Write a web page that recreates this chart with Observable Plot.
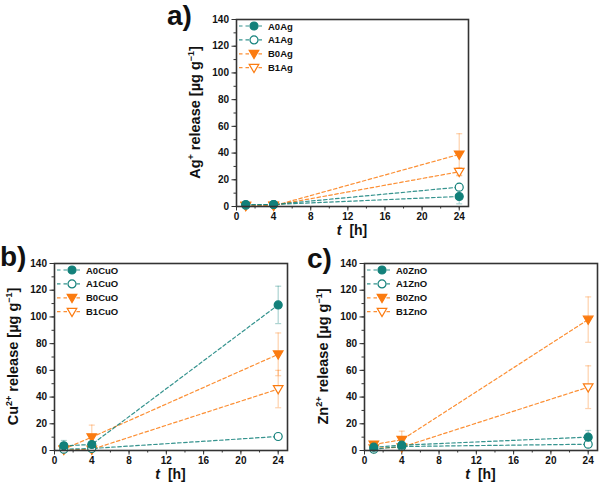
<!DOCTYPE html>
<html>
<head>
<meta charset="utf-8">
<script src="https://cdn.jsdelivr.net/npm/d3@7"></script>
<script src="https://cdn.jsdelivr.net/npm/@observablehq/plot@0.6"></script>
<style>
  body { margin: 0; background: #fff; }
  #fig { position: relative; width: 600px; height: 487px; overflow: hidden;
         font-family: "Liberation Sans", Arial, sans-serif; }
  #fig > svg, #fig > .panel { position: absolute; }
</style>
</head>
<body>
<div id="fig"></div>
<script>
// Sampling times (hours)
const hours = [1, 4, 24];
const xTicks = [0, 4, 8, 12, 16, 20, 24];
const yTicks = [0, 20, 40, 60, 80, 100, 120, 140];

// Ag+ release, µg/g (mean and standard deviation per sample)
const agSeries = ["A0Ag", "A1Ag", "B0Ag", "B1Ag"];
const agMean = [[1.5, 1.5, 7.5], [1, 1.5, 14.5], [0.5, 0.5, 39], [0.5, 0.8, 26]];
const agSd   = [[0.6, 0.6, 5.5], [0.4, 0.5, 1.5], [0.3, 0.3, 15.5], [0.3, 0.3, 3]];

// Cu2+ release, µg/g
const cuSeries = ["A0CuO", "A1CuO", "B0CuO", "B1CuO"];
const cuMean = [[3.5, 4.5, 109], [1, 1.5, 10.5], [1, 10, 72], [0.5, 0.8, 46]];
const cuSd   = [[4, 1, 14], [0.5, 0.5, 1], [1, 9, 16], [0.3, 0.3, 14]];

// Zn2+ release, µg/g
const znSeries = ["A0ZnO", "A1ZnO", "B0ZnO", "B1ZnO"];
const znMean = [[2.5, 4, 10], [1, 3, 4.7], [4.5, 8, 98], [1.7, 2.5, 47.4]];
const znSd   = [[1, 1, 5], [0.5, 0.5, 1], [1, 6.5, 17], [0.5, 0.5, 16]];

const teal = "#12807a";
const orange = "#fb7b10";
const seriesColor = [teal, teal, orange, orange];
const seriesFilled = [true, false, true, false];
const font = '"Liberation Sans", Arial, sans-serif';

// Downward-pointing triangle symbol
const triangleDown = {
  draw(ctx, size) {
    const r = Math.sqrt(size / Math.PI);
    ctx.moveTo(-r * 1.2, -r * 0.85);
    ctx.lineTo(r * 1.2, -r * 0.85);
    ctx.lineTo(0, r * 1.2);
    ctx.closePath();
  }
};
// Short horizontal cap for error bars
const cap = { draw(ctx) { ctx.moveTo(-3, 0); ctx.lineTo(3, 0); } };
const seriesSymbol = ["circle", "circle", triangleDown, triangleDown];

const fig = d3.select("#fig");

function panel({names, mean, sd, ion, charge, left, top, width, height, margin}) {
  const marks = [
    // minor ticks
    Plot.axisX(d3.range(0, 25, 2), {anchor: "bottom", tickSize: 2.5, tickFormat: () => "", label: null, stroke: "#333"}),
    Plot.axisY(d3.range(0, 141, 10), {anchor: "left", tickSize: 2.5, tickFormat: () => "", label: null, stroke: "#333"}),
    // major ticks
    Plot.axisX(xTicks, {anchor: "bottom", tickSize: 4.5, tickPadding: 2, label: null, stroke: "#333",
      fontSize: 10, fontWeight: "bold", fill: "#111"}),
    Plot.axisY(yTicks, {anchor: "left", tickSize: 4.5, tickPadding: 3, label: null, stroke: "#333",
      fontSize: 10, fontWeight: "bold", fill: "#111"})
  ];
  // draw order: open orange, filled orange, open teal, filled teal
  const order = [3, 2, 1, 0];
  const rowsOf = i => hours.map((t, k) => ({t, v: mean[i][k], s: sd[i][k]}));
  for (const i of order) {
    marks.push(Plot.line(rowsOf(i), {x: "t", y: "v", stroke: seriesColor[i], strokeWidth: 1.2,
      strokeDasharray: "3.5,2.5", strokeOpacity: 0.85}));
  }
  for (const i of order) {
    const rows = rowsOf(i);
    marks.push(
      Plot.ruleX(rows, {x: "t", y1: d => d.v - d.s, y2: d => d.v + d.s, stroke: seriesColor[i], strokeOpacity: 0.35, strokeWidth: 1.2}),
      Plot.dot(rows, {x: "t", y: d => d.v - d.s, symbol: cap, stroke: seriesColor[i], strokeOpacity: 0.35, strokeWidth: 1.2}),
      Plot.dot(rows, {x: "t", y: d => d.v + d.s, symbol: cap, stroke: seriesColor[i], strokeOpacity: 0.35, strokeWidth: 1.2})
    );
  }
  for (const i of order) {
    marks.push(Plot.dot(rowsOf(i), {x: "t", y: "v", symbol: seriesSymbol[i], r: 4,
      fill: seriesFilled[i] ? seriesColor[i] : "white", stroke: seriesColor[i], strokeWidth: 1.2}));
  }
  marks.push(Plot.frame({stroke: "#333", strokeWidth: 1.6}));

  const svg = Plot.plot({
    width, height,
    marginLeft: margin[3], marginRight: margin[1], marginTop: margin[0], marginBottom: margin[2],
    style: {fontFamily: font, background: "transparent", overflow: "visible"},
    x: {domain: [0, 25], axis: null},
    y: {domain: [0, 140], axis: null},
    marks
  });
  const div = fig.append("div").attr("class", "panel")
    .style("left", left + "px").style("top", top + "px");
  div.node().appendChild(svg);

  const s = d3.select(svg);
  const fw = width - margin[1] - margin[3];
  const fh = height - margin[0] - margin[2];

  // legend
  const lg = s.append("g").attr("transform", `translate(${margin[3]},${margin[0]})`)
    .attr("font-family", font).attr("text-anchor", "start");
  names.forEach((name, i) => {
    const y = 7 + i * 13.9;
    lg.append("line").attr("x1", 3).attr("x2", 28).attr("y1", y).attr("y2", y)
      .attr("stroke", seriesColor[i]).attr("stroke-width", 1.2).attr("stroke-dasharray", "3.5,3").attr("stroke-opacity", 0.85);
    const fill = seriesFilled[i] ? seriesColor[i] : "white";
    const path = d3.symbol(seriesSymbol[i] === "circle" ? d3.symbolCircle : triangleDown, Math.PI * 16)();
    lg.append("path").attr("d", path).attr("transform", `translate(18,${y})`)
      .attr("fill", fill).attr("stroke", seriesColor[i]).attr("stroke-width", 1.2);
    lg.append("text").attr("x", 32).attr("y", y + 3.5).attr("text-anchor", "start")
      .attr("font-size", 9.5).attr("font-weight", "bold").attr("fill", "#111").text(name);
  });

  // y-axis title with superscripts
  const cy = margin[0] + fh / 2;
  const yt = s.append("text").attr("transform", `translate(${margin[3] - 36},${cy}) rotate(-90)`)
    .attr("text-anchor", "middle").attr("font-size", 14.5).attr("font-weight", "bold").attr("fill", "#111")
    .attr("font-family", font);
  yt.append("tspan").text(ion);
  yt.append("tspan").attr("font-size", 9).attr("dy", -6).text(charge);
  yt.append("tspan").attr("dy", 6).text(" release [µg g");
  yt.append("tspan").attr("font-size", 9).attr("dy", -6).text("−1");
  yt.append("tspan").attr("dy", 6).text("]");

  // x-axis title
  const xt = s.append("text").attr("x", margin[3] + fw / 2).attr("y", margin[0] + fh + 29)
    .attr("text-anchor", "middle").attr("font-size", 14).attr("font-weight", "bold").attr("fill", "#111")
    .attr("font-family", font);
  xt.append("tspan").attr("font-style", "italic").text("t");
  xt.append("tspan").attr("dx", 8).text("[h]");
}

panel({names: agSeries, mean: agMean, sd: agSd, ion: "Ag", charge: "+",
  left: 150, top: 0, width: 335, height: 245, margin: [19, 17, 39, 86]});
panel({names: cuSeries, mean: cuMean, sd: cuSd, ion: "Cu", charge: "2+",
  left: 0, top: 240, width: 300, height: 247, margin: [23, 13, 37, 54]});
panel({names: znSeries, mean: znMean, sd: znSd, ion: "Zn", charge: "2+",
  left: 300, top: 240, width: 300, height: 247, margin: [23, 3, 37, 64]});

// panel tags
const tags = fig.append("svg").attr("width", 600).attr("height", 487)
  .style("left", "0px").style("top", "0px").style("pointer-events", "none");
[["a)", 167, 25], ["b)", 0, 266], ["c)", 307, 268]].forEach(([t, x, y]) => {
  tags.append("text").attr("x", x).attr("y", y).attr("font-size", 28).attr("font-weight", "bold")
    .attr("font-family", font).attr("fill", "#111").text(t);
});
</script>
</body>
</html>
